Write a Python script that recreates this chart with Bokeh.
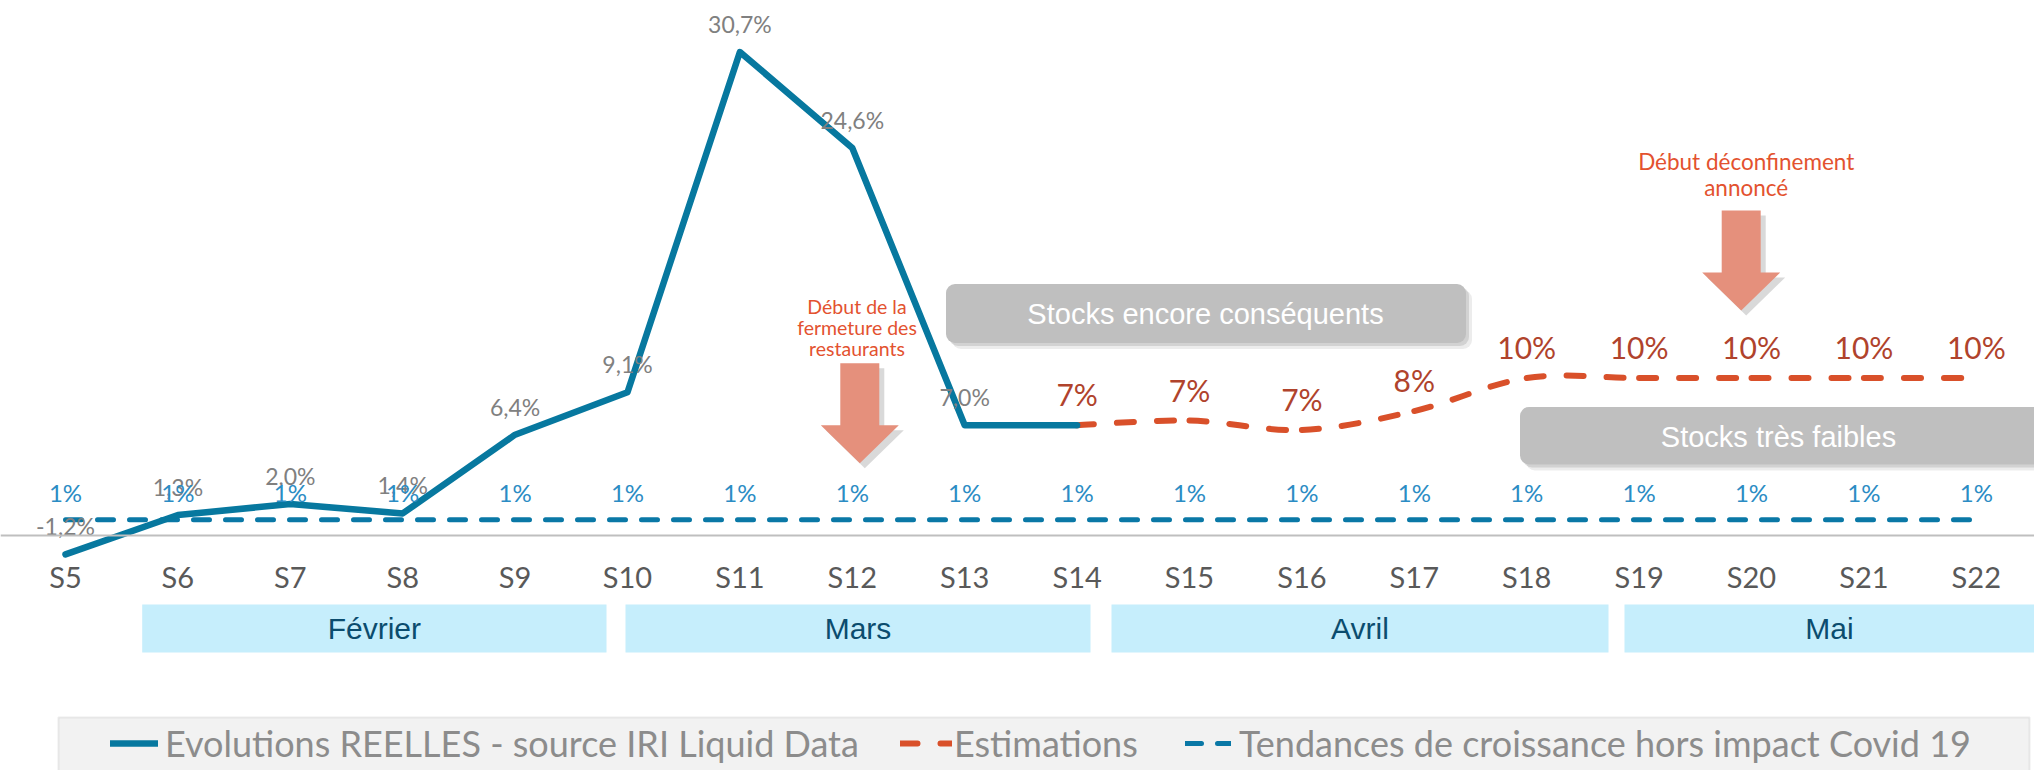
from bokeh.plotting import figure
from bokeh.models import (Range1d, LinearAxis, FixedTicker, BoxAnnotation, Legend,
                          LegendItem, ColumnDataSource)
from bokeh.core.properties import value
from bokeh.embed import file_html
from bokeh.resources import INLINE

# ---------------- data ----------------
weeks = ["S5", "S6", "S7", "S8", "S9", "S10", "S11", "S12", "S13", "S14",
         "S15", "S16", "S17", "S18", "S19", "S20", "S21", "S22"]

real_weeks = ["S5", "S6", "S7", "S8", "S9", "S10", "S11", "S12", "S13", "S14"]
real_values = [-1.2, 1.3, 2.0, 1.4, 6.4, 9.1, 30.7, 24.6, 7.0, 7.0]
real_labels = ["-1,2%", "1,3%", "2,0%", "1,4%", "6,4%", "9,1%", "30,7%", "24,6%", "7,0%", ""]

est_weeks = ["S14", "S15", "S16", "S17", "S18", "S19", "S20", "S21", "S22"]
est_values = [7.0, 7.3, 6.7, 7.9, 10.0, 10.0, 10.0, 10.0, 10.0]
est_labels = ["7%", "7%", "7%", "8%", "10%", "10%", "10%", "10%", "10%"]

trend_weeks = weeks
trend_values = [1.0, 1.0, 1.0, 1.0, 1.0, 1.0, 1.0, 1.0, 1.0,
                1.0, 1.0, 1.0, 1.0, 1.0, 1.0, 1.0, 1.0, 1.0]
trend_labels = ["1%", "1%", "1%", "1%", "1%", "1%", "1%", "1%", "1%",
                "1%", "1%", "1%", "1%", "1%", "1%", "1%", "1%", "1%"]

months = ["Février", "Mars", "Avril", "Mai"]

legend_labels = ["Evolutions REELLES - source IRI Liquid Data", "Estimations",
                 "Tendances de croissance hors impact Covid 19"]

# ---------------- layout helpers (page pixels -> data) ----------------
W, H = 2034, 770
FIG_X, FIG_Y = 0, 0
X0_PX, DX = 65.0, 112.4      # page x of first week, px per week
Y0_PX, DY = 535.0, 15.75     # page y of 0 %, px per %


def xd(px):
    return (px - X0_PX) / DX


def yd(py):
    return (Y0_PX - py) / DY


idx = {w: i for i, w in enumerate(weeks)}

REAL_C = "#07789F"
EST_C = "#D9502A"
TREND_C = "#0A78A6"
GRAY_LBL = "#808080"
EST_LBL = "#B0432C"
TREND_LBL = "#2B8CC4"
ANN_C = "#E3522F"
ARROW_C = "#E5907C"
BOX_C = "#BFBFBF"
BAND_C = "#C6EEFC"
MONTH_C = "#0B4C6E"

p = figure(width=W, height=H, output_backend="svg", toolbar_location=None,
           x_range=Range1d(xd(FIG_X), xd(FIG_X + W)),
           y_range=Range1d(yd(FIG_Y + H), yd(FIG_Y)),
           x_axis_location=None, y_axis_location=None, min_border=0)
p.outline_line_color = None
p.grid.grid_line_color = None
p.background_fill_color = "white"
p.border_fill_color = "white"

# ---------------- x axis at 0 ----------------
axis = LinearAxis(ticker=FixedTicker(ticks=[idx[w] for w in weeks]),
                  major_label_overrides={idx[w]: w for w in weeks},
                  fixed_location=0,
                  axis_line_color="#BFBFBF", axis_line_width=2,
                  major_tick_line_color=None, minor_tick_line_color=None,
                  major_label_text_font="Lato", major_label_text_font_size="29px",
                  major_label_text_color="#595959", major_label_standoff=17)
p.add_layout(axis, "below")

# ---------------- month bands ----------------
band_px = [(141.7, 606.0), (625.0, 1090.0), (1111.0, 1608.0), (1624.0, 2034.0)]
for (l, r), m in zip(band_px, months):
    p.add_layout(BoxAnnotation(left=xd(l), right=xd(r), top=yd(604), bottom=yd(652),
                               fill_color=BAND_C, fill_alpha=1, line_color=None,
                               level="underlay"))
p.text(x=[xd((l + r) / 2) for l, r in band_px], y=[yd(628)] * 4, text=months,
       text_font=value("Liberation Sans"), text_font_size=value("30px"),
       text_color=MONTH_C, text_align="center", text_baseline="middle")

# ---------------- grey boxes ----------------
def grey_box(l, r, t, b):
    for off, a in ((3, 0.18), (6, 0.12)):
        p.add_layout(BoxAnnotation(left=xd(l + off), right=xd(r + off), top=yd(t + off),
                                   bottom=yd(b + off), fill_color="#606060", fill_alpha=a,
                                   line_color=None, border_radius=9, level="underlay"))
    p.add_layout(BoxAnnotation(left=xd(l), right=xd(r), top=yd(t), bottom=yd(b),
                               fill_color=BOX_C, fill_alpha=1, line_color=None,
                               border_radius=9, level="underlay"))


grey_box(945.5, 1465.5, 283.5, 342.5)
grey_box(1519.5, 2060.0, 406.5, 464.0)
p.text(x=[xd(1205), xd(1778)], y=[yd(313), yd(436)],
       text=["Stocks encore conséquents", "Stocks très faibles"],
       text_font=value("Liberation Sans"), text_font_size=value("29px"),
       text_color="white", text_align="center", text_baseline="middle")

# ---------------- arrows ----------------
def arrow(tx, ty):
    hw, hh, L, hd = 19.5, 39.0, 100.0, 38.0
    pts = [(tx - hw, ty - L), (tx + hw, ty - L), (tx + hw, ty - hd), (tx + hh, ty - hd),
           (tx, ty), (tx - hh, ty - hd), (tx - hw, ty - hd)]
    return pts


arrows_px = [arrow(859.3, 462.7), arrow(1740.7, 310.0)]
p.patches(xs=[[xd(x + 5) for x, y in a] for a in arrows_px],
          ys=[[yd(y + 5) for x, y in a] for a in arrows_px],
          fill_color="#505050", fill_alpha=0.22, line_color=None)
p.patches(xs=[[xd(x) for x, y in a] for a in arrows_px],
          ys=[[yd(y) for x, y in a] for a in arrows_px],
          fill_color=ARROW_C, line_color=None)

p.text(x=[xd(856.5)], y=[yd(327)], text=["Début de la\nfermeture des\nrestaurants"],
       text_font=value("Lato"), text_font_size=value("19.5px"),
       text_line_height=0.93, text_color=ANN_C, text_align="center",
       text_baseline="middle")
p.text(x=[xd(1745.7)], y=[yd(174)], text=["Début déconfinement\nannoncé"],
       text_font=value("Lato"), text_font_size=value("22.5px"),
       text_line_height=0.95, text_color=ANN_C, text_align="center",
       text_baseline="middle")

# ---------------- series ----------------
trend_src = ColumnDataSource(dict(x=[idx[w] for w in trend_weeks], y=trend_values,
                                  t=trend_labels))
trend_r = p.line("x", "y", source=trend_src, line_color=TREND_C, line_width=5,
                 line_dash="16 16", line_cap="round")

ex = [idx[w] for w in est_weeks]
ey = est_values
n = len(ex)
bz = dict(x0=[], y0=[], x1=[], y1=[], cx0=[], cy0=[], cx1=[], cy1=[])
for i in range(n - 1):
    a = max(i - 1, 0)
    d = min(i + 2, n - 1)
    bz["x0"].append(ex[i]); bz["y0"].append(ey[i])
    bz["x1"].append(ex[i + 1]); bz["y1"].append(ey[i + 1])
    bz["cx0"].append(ex[i] + (ex[i + 1] - ex[a]) / 6.0)
    bz["cy0"].append(ey[i] + (ey[i + 1] - ey[a]) / 6.0)
    bz["cx1"].append(ex[i + 1] - (ex[d] - ex[i]) / 6.0)
    bz["cy1"].append(ey[i + 1] - (ey[d] - ey[i]) / 6.0)
est_r = p.bezier(source=ColumnDataSource(bz), line_color=EST_C, line_width=6,
                 line_dash="17 23", line_cap="round")

real_src = ColumnDataSource(dict(x=[idx[w] for w in real_weeks], y=real_values,
                                 t=real_labels))
real_r = p.line("x", "y", source=real_src, line_color=REAL_C, line_width=6.5,
                line_join="round", line_cap="round")

# ---------------- data labels ----------------
p.text("x", "y", text="t", source=real_src, text_font=value("Lato"),
       text_font_size=value("23px"), text_color=GRAY_LBL, text_align="center",
       text_baseline="middle", y_offset=-28)
est_src = ColumnDataSource(dict(x=ex, y=ey, t=est_labels))
p.text("x", "y", text="t", source=est_src, text_font=value("Lato"),
       text_font_size=value("30px"), text_color=EST_LBL, text_align="center",
       text_baseline="middle", y_offset=-31)
p.text("x", "y", text="t", source=trend_src, text_font=value("Lato"),
       text_font_size=value("24px"), text_color=TREND_LBL, text_align="center",
       text_baseline="middle", y_offset=-27)

# ---------------- legend ----------------
p.add_layout(BoxAnnotation(left=xd(58), right=xd(2029), top=yd(717), bottom=yd(800),
                           fill_color="#F2F2F2", fill_alpha=1, line_color="#BFBFBF",
                           line_width=2, level="underlay"))
leg_specs = [(real_r, 110, 48, 7), (est_r, 900, 52, 2), (trend_r, 1185, 46, 8)]
for (r, x_px, gw, so), lab in zip(leg_specs, legend_labels):
    leg = Legend(items=[LegendItem(label=lab, renderers=[r])],
                 location=(x_px - FIG_X, 5), orientation="horizontal",
                 padding=0, margin=0, spacing=0, glyph_width=gw, glyph_height=40,
                 label_height=40, label_standoff=so,
                 label_text_font="Lato", label_text_font_size="36px",
                 label_text_color="#8C8C8C",
                 background_fill_alpha=0, border_line_color=None)
    p.add_layout(leg)

open("out.html", "w").write(file_html(p, INLINE))
